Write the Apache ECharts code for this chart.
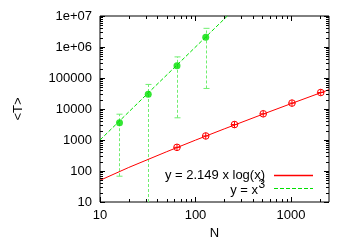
<!DOCTYPE html>
<html><head><meta charset="utf-8">
<script src="https://cdn.jsdelivr.net/npm/echarts@6/dist/echarts.min.js"></script>
<style>html,body{margin:0;padding:0;background:#fff}#c{width:350px;height:245px}</style>
</head><body><div id="c"></div>
<script>
// ---- data ----
const xTickValues = [10, 100, 1000];
const xTickLabels = ['10', '100', '1000'];
const yTickValues = [10, 100, 1000, 10000, 100000, 1000000, 10000000];
const yTickLabels = ['10', '100', '1000', '10000', '100000', '1e+06', '1e+07'];
const xName = 'N';
const yName = '<T>';

const redN = [64, 128, 256, 512, 1024, 2048];
const redT = [580, 1350, 3150, 7000, 15500, 34000];
const fitN = [10, 20, 50, 100, 200, 500, 1000, 2500];
const fitT = [50, 130, 420, 990, 2280, 6680, 14850, 42000];

const greenN = [16, 32, 64, 128];
const greenT = [3600, 30000, 250000, 2050000];
const greenLow = [68, 5, 5200, 46000];
const greenHigh = [6800, 62000, 480000, 4000000];
const cubeN = [10, 16, 32, 64, 128, 250];
const cubeT = [1000, 4100, 33000, 262000, 2100000, 15600000];

const legendLabels = ['y = 2.149 x log(x)', 'y = x', '3'];

// ---- helpers ----
const FONT = '"Liberation Sans", Arial, sans-serif';
const RED = '#ff0000';
const GREEN = '#00e000';
const EB = '#70ee70';
function minorTicks(lo, hi) {
  const out = [];
  for (let d = lo; d < hi; d *= 10) for (let k = 2; k <= 9; k++) if (d * k < hi * 1.0001) out.push(d * k);
  return out;
}
const xMinor = minorTicks(10, 2500);
const yMinor = minorTicks(10, 10000000);
function fmt(vals, labels) {
  return function (v) {
    for (let i = 0; i < vals.length; i++) if (Math.abs(v - vals[i]) / vals[i] < 1e-6) return labels[i];
    return '';
  };
}
const tickData = [];
xTickValues.forEach(v => tickData.push([v, 10, 0, 5]));
xMinor.forEach(v => tickData.push([v, 10, 0, 3]));
yTickValues.forEach(v => tickData.push([10, v, 1, 5]));
yMinor.forEach(v => tickData.push([10, v, 1, 3]));

const chart = echarts.init(document.getElementById('c'), null, {renderer: 'canvas'});
chart.setOption({
  animation: false,
  backgroundColor: '#fff',
  grid: {left: 100, right: 21, top: 16, bottom: 43, show: true, borderColor: '#000', borderWidth: 1, backgroundColor: 'transparent'},
  xAxis: {
    type: 'log', logBase: 10, min: 10, max: 2500,
    name: xName, nameLocation: 'middle', nameGap: 25,
    nameTextStyle: {fontFamily: FONT, fontSize: 13, color: '#000'},
    axisLine: {show: false}, axisTick: {show: false}, splitLine: {show: false}, minorTick: {show: false},
    axisLabel: {fontFamily: FONT, fontSize: 13, color: '#000', margin: 7, showMaxLabel: false, formatter: fmt(xTickValues, xTickLabels)}
  },
  yAxis: {
    type: 'log', logBase: 10, min: 10, max: 10000000,
    name: yName, nameLocation: 'middle', nameGap: 75, nameRotate: 90,
    nameTextStyle: {fontFamily: FONT, fontSize: 13, color: '#000'},
    axisLine: {show: false}, axisTick: {show: false}, splitLine: {show: false}, minorTick: {show: false},
    axisLabel: {fontFamily: FONT, fontSize: 13, color: '#000', margin: 8, formatter: fmt(yTickValues, yTickLabels)}
  },
  series: [
    { // tick marks (mirrored, inward)
      type: 'custom', silent: true, clip: false, z: 5,
      data: tickData,
      renderItem: function (params, api) {
        const cs = params.coordSys;
        const kind = api.value(2), len = api.value(3);
        const st = {stroke: '#000', lineWidth: 1};
        if (kind === 0) {
          const px = Math.round(api.coord([api.value(0), 10])[0]) + 0.5;
          return {type: 'group', children: [
            {type: 'line', shape: {x1: px, y1: cs.y + cs.height, x2: px, y2: cs.y + cs.height - len}, style: st},
            {type: 'line', shape: {x1: px, y1: cs.y, x2: px, y2: cs.y + len}, style: st}
          ]};
        } else {
          const py = Math.round(api.coord([10, api.value(1)])[1]) + 0.5;
          return {type: 'group', children: [
            {type: 'line', shape: {x1: cs.x, y1: py, x2: cs.x + len, y2: py}, style: st},
            {type: 'line', shape: {x1: cs.x + cs.width, y1: py, x2: cs.x + cs.width - len, y2: py}, style: st}
          ]};
        }
      }
    },
    { // fit line
      type: 'line', data: fitN.map((n, i) => [n, fitT[i]]), showSymbol: false, symbol: 'none',
      lineStyle: {color: RED, width: 1}, z: 3
    },
    { // red markers: circle with plus
      type: 'custom', z: 4,
      data: redN.map((n, i) => [n, redT[i]]),
      renderItem: function (params, api) {
        const p = api.coord([api.value(0), api.value(1)]);
        const r = 3.3, st = {stroke: RED, fill: null, lineWidth: 1};
        return {type: 'group', children: [
          {type: 'circle', shape: {cx: p[0], cy: p[1], r: r}, style: st},
          {type: 'line', shape: {x1: p[0] - r, y1: p[1], x2: p[0] + r, y2: p[1]}, style: st},
          {type: 'line', shape: {x1: p[0], y1: p[1] - r, x2: p[0], y2: p[1] + r}, style: st}
        ]};
      }
    },
    { // cube line
      type: 'line', data: cubeN.map((n, i) => [n, cubeT[i]]), showSymbol: false, symbol: 'none',
      lineStyle: {color: GREEN, width: 1, type: [4, 2]}, z: 3
    },
    { // green error bars
      type: 'custom', z: 2,
      data: greenN.map((n, i) => [n, greenLow[i], greenHigh[i]]),
      renderItem: function (params, api) {
        const cs = params.coordSys;
        const x = api.value(0);
        const pLo = api.coord([x, api.value(1)]);
        const pHi = api.coord([x, api.value(2)]);
        const bottom = cs.y + cs.height;
        const px = Math.round(pLo[0]) + 0.5;
        const lo = Math.min(pLo[1], bottom);
        const st = {stroke: EB, lineWidth: 1, lineDash: [3, 2]};
        const ch = [{type: 'line', shape: {x1: px, y1: lo, x2: px, y2: pHi[1]}, style: st}];
        ch.push({type: 'line', shape: {x1: px - 3, y1: pHi[1], x2: px + 3, y2: pHi[1]}, style: {stroke: EB, lineWidth: 1}});
        if (pLo[1] <= bottom) ch.push({type: 'line', shape: {x1: px - 3, y1: pLo[1], x2: px + 3, y2: pLo[1]}, style: {stroke: EB, lineWidth: 1}});
        return {type: 'group', children: ch};
      }
    },
    { // green markers
      type: 'scatter', data: greenN.map((n, i) => [n, greenT[i]]),
      symbol: 'circle', symbolSize: 7, itemStyle: {color: GREEN}, z: 4
    }
  ],
  graphic: [
    {type: 'text', x: 265, y: 175, style: {text: legendLabels[0], font: '13px ' + FONT, fill: '#000', textAlign: 'right', textVerticalAlign: 'middle'}},
    {type: 'line', shape: {x1: 274, y1: 175.5, x2: 313, y2: 175.5}, style: {stroke: RED, lineWidth: 1.5}},
    {type: 'text', x: 258, y: 190.5, style: {text: legendLabels[1], font: '13px ' + FONT, fill: '#000', textAlign: 'right', textVerticalAlign: 'middle'}},
    {type: 'text', x: 258.5, y: 184.5, style: {text: legendLabels[2], font: '12px ' + FONT, fill: '#000', textAlign: 'left', textVerticalAlign: 'middle'}},
    {type: 'line', shape: {x1: 274, y1: 188.5, x2: 313, y2: 188.5}, style: {stroke: GREEN, lineWidth: 1, lineDash: [4, 2]}}
  ]
});
</script>
</body></html>
